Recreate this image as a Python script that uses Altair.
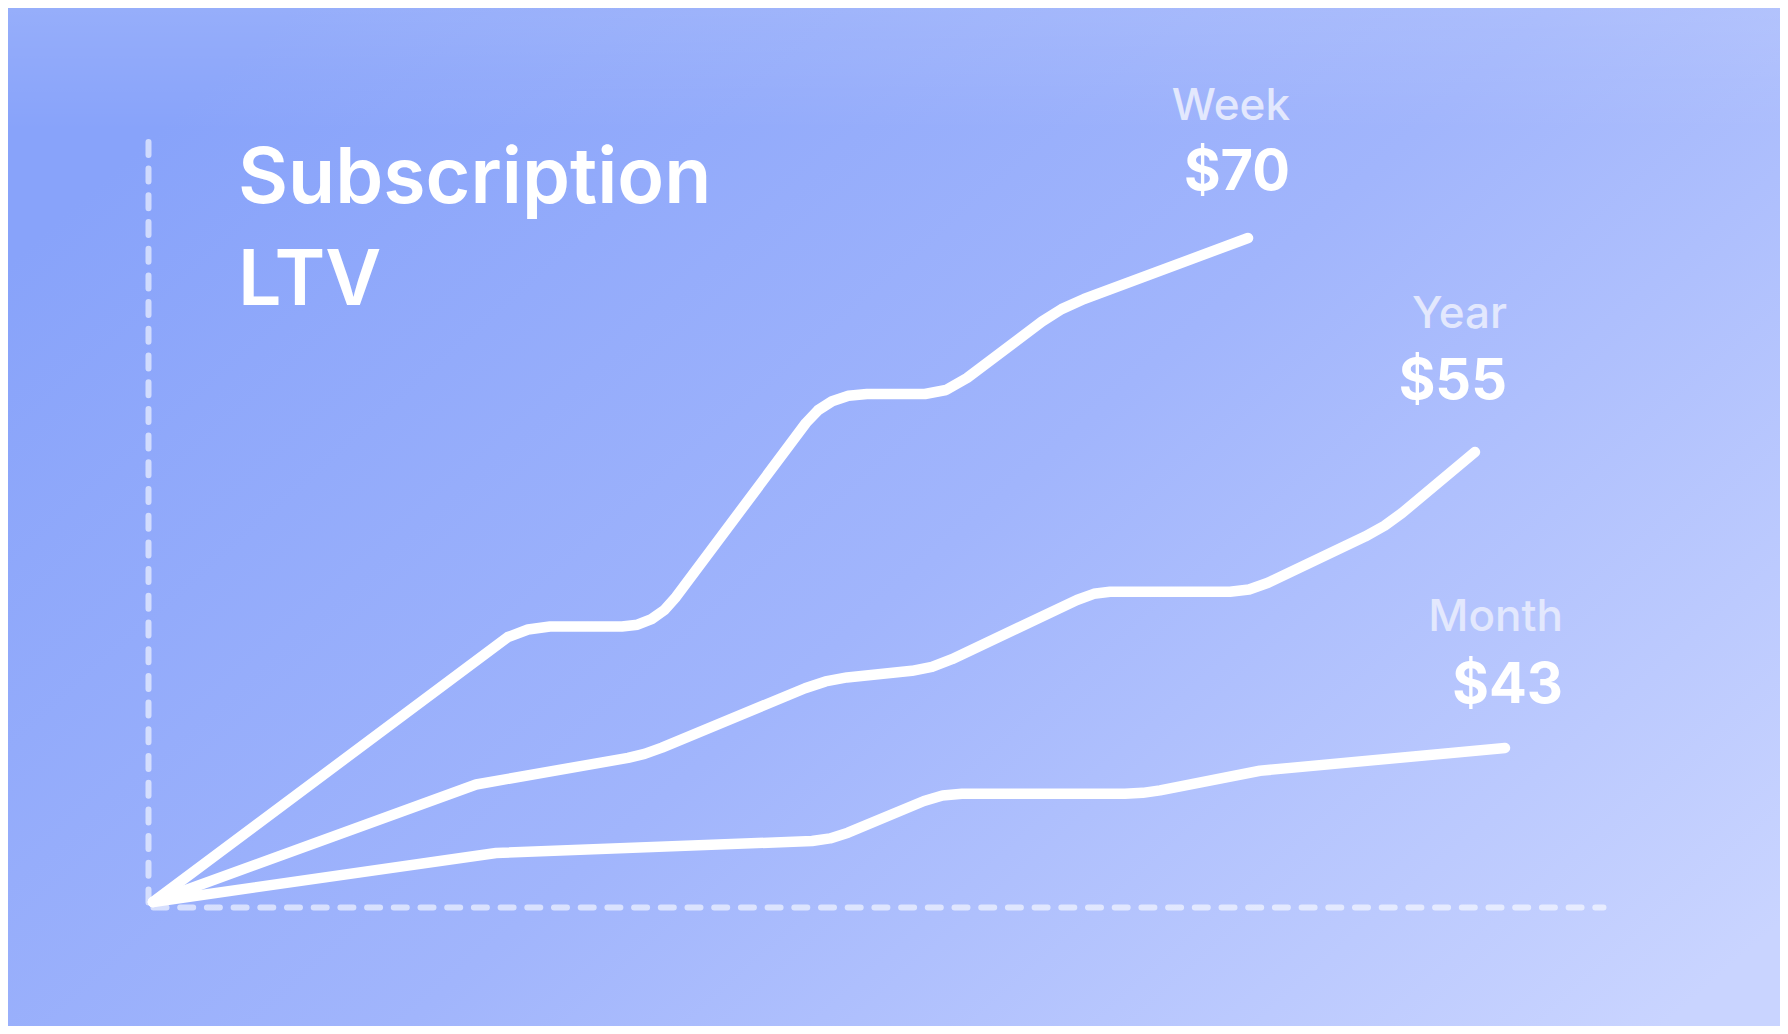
import altair as alt
import pandas as pd

# ---- data (x: time index 0-100, y: LTV index 0-100) ----
week_x = [0, 24.48, 25.86, 27.38, 32.34, 33.41, 34.38, 35.27, 36.07, 45.03, 45.86,
          46.83, 47.96, 49.24, 53.24, 54.69, 56.14, 61.31, 62.66, 64.21, 75.52]
week_y = [0, 34.55, 35.53, 35.92, 35.92, 36.15, 36.88, 38.08, 39.77, 62.45, 64.11,
          65.29, 66.00, 66.23, 66.23, 66.75, 68.32, 75.68, 77.30, 78.62, 86.57]

year_x = [0, 22.28, 32.76, 33.90, 35.10, 44.97, 46.38, 47.86, 52.34, 53.72, 55.10,
          63.72, 64.88, 66.00, 74.28, 75.59, 76.90, 83.59, 84.93, 86.14, 91.17]
year_y = [0, 15.32, 18.80, 19.31, 20.13, 27.87, 28.76, 29.28, 30.14, 30.66, 31.66,
          39.37, 40.18, 40.44, 40.44, 40.74, 41.63, 47.64, 49.05, 50.72, 58.67]

month_x = [0, 23.66, 45.45, 46.69, 47.93, 53.17, 54.45, 55.79, 67.03, 68.26, 69.45, 76.34, 93.24]
month_y = [0, 6.39, 7.95, 8.29, 9.04, 13.17, 13.89, 14.12, 14.12, 14.23, 14.56, 17.11, 20.08]

plans = ["Week", "Year", "Month"]
plan_values = ["$70", "$55", "$43"]
title_lines = ["Subscription", "LTV"]

series = {"Week": (week_x, week_y), "Year": (year_x, year_y), "Month": (month_x, month_y)}

rows = []
for p in plans:
    xs, ys = series[p]
    for i, (xv, yv) in enumerate(zip(xs, ys)):
        rows.append({"plan": p, "t": xv, "ltv": yv, "order": i})
df = pd.DataFrame(rows)

ends = pd.DataFrame([
    {"plan": p, "value": v, "t": series[p][0][-1], "ltv": series[p][1][-1]}
    for p, v in zip(plans, plan_values)
])

# ---- layout ----
W, H = 1450, 767
PAD_L, PAD_T, PAD_R, PAD_B = 145, 127, 177, 124

axis_style = dict(
    domain=True, domainColor="white", domainOpacity=0.6, domainWidth=6,
    domainDash=[13, 13.7], domainCap="round",
    ticks=False, labels=False, grid=False, title=None, offset=5, zindex=1,
)

x_enc = alt.X("t:Q", scale=alt.Scale(domain=[0, 100], nice=False, zero=True),
              axis=alt.Axis(**axis_style))
y_enc = alt.Y("ltv:Q", scale=alt.Scale(domain=[0, 100], nice=False, zero=True),
              axis=alt.Axis(**axis_style))

one = pd.DataFrame({"k": [0]})

bg = alt.Chart(one).mark_rect(
    color=alt.LinearGradient(
        gradient="linear",
        stops=[
            alt.GradientStop(color="#88a3fa", offset=0),
            alt.GradientStop(color="#a1b5fc", offset=0.5),
            alt.GradientStop(color="#c9d4ff", offset=1),
        ],
        x1=0, y1=0.25, x2=1, y2=0.9,
    )
).encode(
    x=alt.value(-PAD_L), x2=alt.value(W + PAD_R),
    y=alt.value(-PAD_T), y2=alt.value(H + PAD_B),
)

glow = alt.Chart(one).mark_rect(
    color=alt.LinearGradient(
        gradient="linear",
        stops=[
            alt.GradientStop(color="rgba(255,255,255,0.12)", offset=0),
            alt.GradientStop(color="rgba(255,255,255,0)", offset=0.12),
        ],
        x1=0, y1=0, x2=0, y2=1,
    )
).encode(
    x=alt.value(-PAD_L), x2=alt.value(W + PAD_R),
    y=alt.value(-PAD_T), y2=alt.value(H + PAD_B),
)

lines = alt.Chart(df).mark_line(
    color="white", strokeWidth=10.5, strokeCap="round", strokeJoin="round"
).encode(
    x=x_enc, y=y_enc, detail="plan:N", order="order:Q"
)

# label offsets (pixels) from each line's end: dx, dy(name), dy(value)
offsets = {"Week": (42, -118, -48), "Year": (32, -124, -53), "Month": (58, -117, -45)}

label_layers = []
for p in plans:
    dx, dy_name, dy_val = offsets[p]
    base = alt.Chart(ends).transform_filter(alt.datum.plan == p)
    label_layers.append(
        base.mark_text(align="right", baseline="alphabetic", dx=dx, dy=dy_name,
                       font="Inter", fontSize=44, fontWeight=500, color="#e3e8fd")
        .encode(x="t:Q", y="ltv:Q", text="plan:N")
    )
    label_layers.append(
        base.mark_text(align="right", baseline="alphabetic", dx=dx, dy=dy_val,
                       font="Inter", fontSize=56, fontWeight=700, color="white")
        .encode(x="t:Q", y="ltv:Q", text="value:N")
    )

title = alt.Chart(pd.DataFrame({"title": ["\n".join(title_lines)]})).mark_text(
    align="left", baseline="alphabetic", lineBreak="\n", lineHeight=102,
    font="Inter", fontSize=77, fontWeight=600, color="white"
).encode(x=alt.value(85), y=alt.value(68), text="title:N")

chart = alt.layer(bg, glow, lines, *label_layers, title).properties(
    width=W, height=H,
    padding={"left": PAD_L, "top": PAD_T, "right": PAD_R, "bottom": PAD_B},
    autosize=alt.AutoSizeParams(type="none"),
    background="#a1b5fc",
).configure_view(stroke=None)

chart.save("out.html", embed_options={"renderer": "svg", "actions": False})
